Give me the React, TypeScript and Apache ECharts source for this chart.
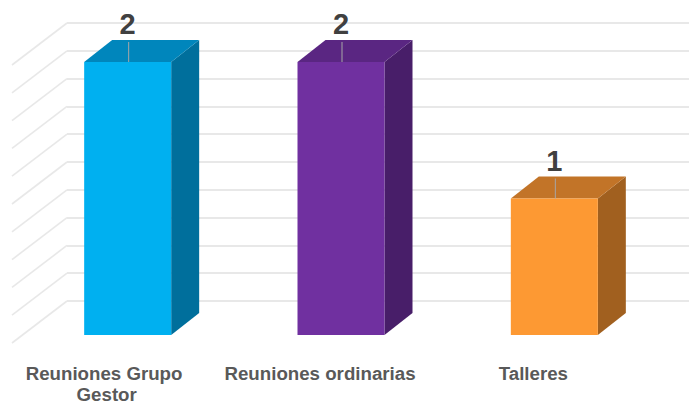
import { useEffect, useRef } from "react";
import * as echarts from "echarts";

const categories = ["Reuniones Grupo Gestor", "Reuniones ordinarias", "Talleres"];
const values = [2, 2, 1];
const frontColors = ["#00B0F0", "#7030A0", "#FD9933"];
const topColors = ["#0086BC", "#5A2682", "#C27428"];
const sideColors = ["#006F9C", "#481E69", "#A1601F"];
const wallLevels = [0, 1, 2, 3, 4, 5, 6, 7, 8, 9, 10];

const FONT = "'Liberation Sans', Arial, sans-serif";

export default function App() {
  const ref = useRef<HTMLDivElement>(null);
  useEffect(() => {
    document.body.style.margin = "0";
    const chart = echarts.init(ref.current!, null, { renderer: "svg" });
    const option: any = {
      animation: false,
      backgroundColor: "#ffffff",
      grid: [
        { left: -5, right: 49, top: 62, bottom: 65 },
        { left: 67, right: 0, top: 23, bottom: 104 },
      ],
      xAxis: [
        {
          type: "category",
          gridIndex: 0,
          data: categories,
          axisLine: { show: false },
          axisTick: { show: false },
          axisLabel: {
            margin: 28,
            color: "#595959",
            fontFamily: FONT,
            fontWeight: "bold",
            fontSize: 18.7,
            lineHeight: 21,
            width: 205,
            overflow: "break",
            interval: 0,
          },
        },
        { type: "value", gridIndex: 1, min: 0, max: 1, show: false },
      ],
      yAxis: [
        { type: "value", gridIndex: 0, min: 0, max: 2, show: false, splitLine: { show: false } },
        {
          type: "value",
          gridIndex: 1,
          min: 0,
          max: 10,
          interval: 1,
          axisLabel: { show: false },
          axisLine: { show: false },
          axisTick: { show: false },
          splitLine: { show: true, lineStyle: { color: "#E8E8E8", width: 2 } },
        },
      ],
      series: [
        {
          type: "custom",
          xAxisIndex: 1,
          yAxisIndex: 1,
          z: 1,
          silent: true,
          data: wallLevels.map((v) => [0, v]),
          renderItem: (_p: any, api: any) => {
            const p = api.coord([0, api.value(1)]);
            return {
              type: "line",
              shape: { x1: p[0], y1: p[1], x2: p[0] - 55, y2: p[1] + 42 },
              style: { stroke: "#E8E8E8", lineWidth: 1.6 },
            };
          },
        },
        {
          type: "custom",
          xAxisIndex: 0,
          yAxisIndex: 0,
          z: 5,
          data: values.map((v, i) => [i, v]),
          renderItem: (_p: any, api: any) => {
            const i = api.value(0);
            const v = api.value(1);
            const top = api.coord([i, v]);
            const base = api.coord([i, 0]);
            const cx = top[0] + 21;
            const w = 87;
            const dx = 28;
            const dy = 22;
            const x0 = cx - w / 2;
            const x1 = cx + w / 2;
            return {
              type: "group",
              children: [
                {
                  type: "polygon",
                  shape: { points: [[x1, top[1]], [x1 + dx, top[1] - dy], [x1 + dx, base[1] - dy], [x1, base[1]]] },
                  style: { fill: sideColors[i] },
                },
                {
                  type: "polygon",
                  shape: { points: [[x0, top[1]], [x1, top[1]], [x1 + dx, top[1] - dy], [x0 + dx, top[1] - dy]] },
                  style: { fill: topColors[i] },
                },
                {
                  type: "rect",
                  shape: { x: x0, y: top[1], width: w, height: base[1] - top[1] },
                  style: { fill: frontColors[i] },
                },
                {
                  type: "line",
                  shape: { x1: cx + 1, y1: top[1] - 20, x2: cx + 1, y2: top[1] },
                  style: { stroke: "#A6A6A6", lineWidth: 1 },
                },
                {
                  type: "text",
                  x: cx,
                  y: top[1] - 38,
                  style: {
                    text: String(v),
                    fill: "#404040",
                    font: `bold 29px ${FONT}`,
                    align: "center",
                    verticalAlign: "middle",
                  },
                },
              ],
            };
          },
        },
      ],
    };
    chart.setOption(option);
    return () => chart.dispose();
  }, []);
  return <div ref={ref} style={{ width: 689, height: 405 }} />;
}
